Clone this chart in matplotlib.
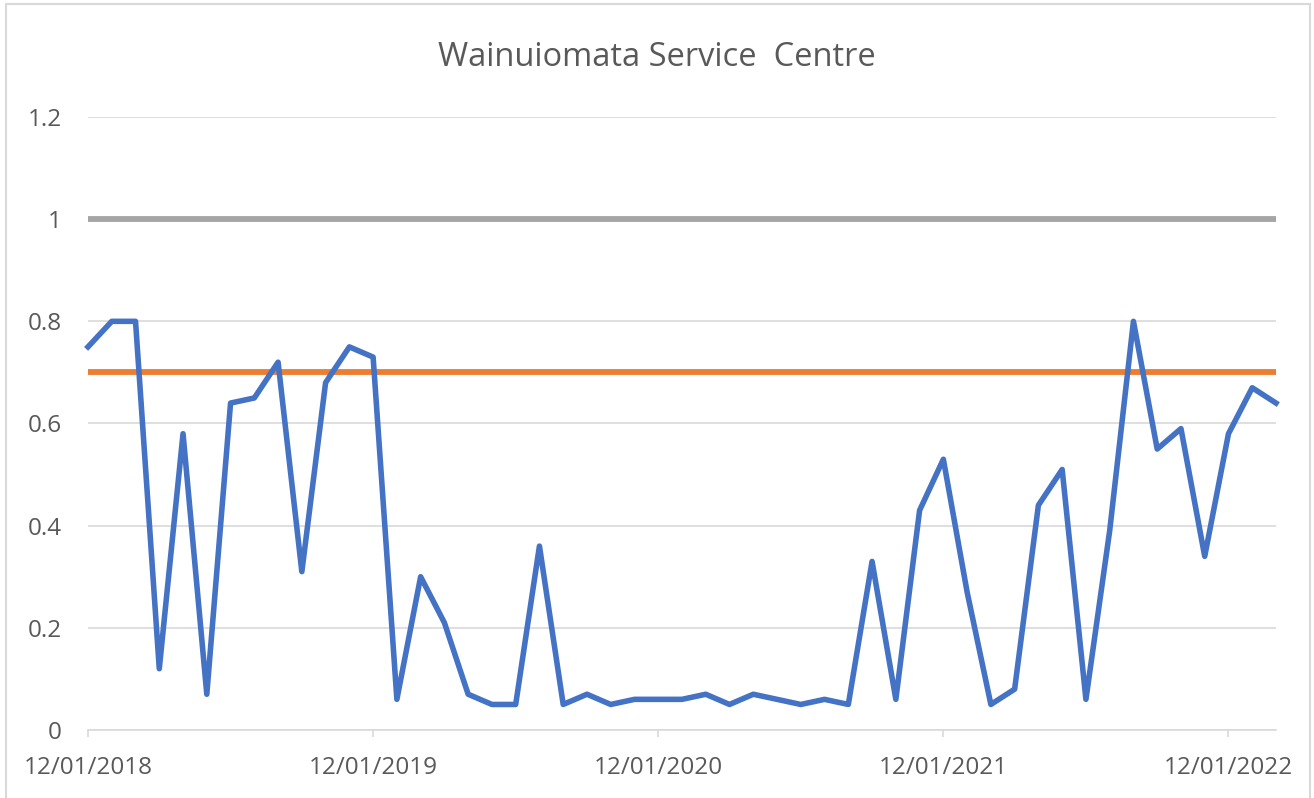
import numpy as np
import matplotlib
matplotlib.use("Agg")
import matplotlib.pyplot as plt
from matplotlib.patches import Rectangle

plt.rcParams['font.family'] = ['Open Sans', 'DejaVu Sans']

# monthly values
values = [0.75, 0.80, 0.80, 0.12, 0.58, 0.07, 0.64, 0.65, 0.72, 0.31,
          0.68, 0.75, 0.73, 0.06, 0.30, 0.21, 0.07, 0.05, 0.05, 0.36,
          0.05, 0.07, 0.05, 0.06, 0.06, 0.06, 0.07, 0.05, 0.07, 0.06,
          0.05, 0.06, 0.05, 0.33, 0.06, 0.43, 0.53, 0.27, 0.05, 0.08,
          0.44, 0.51, 0.06, 0.39, 0.80, 0.55, 0.59, 0.34, 0.58, 0.67,
          0.64]
target = 0.7
maximum = 1.0
tick_labels = ['12/01/2018', '12/01/2019', '12/01/2020', '12/01/2021', '12/01/2022']

months = np.arange(len(values))
text_col = '#595959'

fig = plt.figure(figsize=(13.14, 7.98), dpi=100)
ax = fig.add_axes([88 / 1314, 68 / 798, 1188 / 1314, 613 / 798])

ax.plot(months, [maximum] * len(values), color='#A5A5A5', lw=4.2, solid_capstyle='butt', zorder=3)
ax.plot(months, [target] * len(values), color='#ED7D31', lw=4.2, solid_capstyle='butt', zorder=3)
ax.plot(months, values, color='#4472C4', lw=4.0, solid_joinstyle='round', zorder=4)

ax.set_xlim(0, len(values) - 1)
ax.set_ylim(0, 1.2)
ax.set_yticks(np.arange(0, 1.21, 0.2))
ax.set_yticklabels(['0', '0.2', '0.4', '0.6', '0.8', '1', '1.2'])
ax.set_xticks(np.arange(0, len(values), 12))
ax.set_xticklabels(tick_labels)

ax.grid(axis='y', color='#D9D9D9', lw=1.2, zorder=0)
for s in ['left', 'right', 'top']:
    ax.spines[s].set_visible(False)
ax.spines['bottom'].set_color('#D9D9D9')
ax.spines['bottom'].set_linewidth(1.2)
ax.tick_params(axis='y', length=0, pad=19, labelsize=17.5, labelcolor=text_col)
ax.tick_params(axis='x', length=5, width=1.2, color='#D9D9D9', pad=14,
               labelsize=17.5, labelcolor=text_col)
for ln in ax.lines:
    ln.set_clip_on(False)

fig.text(0.5, 1 - 57 / 798, 'Wainuiomata Service  Centre', ha='center', va='center',
         fontsize=23.5, color=text_col)

fig.patches.append(Rectangle((6 / 1314, -0.01), 1304 / 1314, 1 - 4 / 798 + 0.01,
                             transform=fig.transFigure, fill=False,
                             edgecolor='#D9D9D9', lw=1.5))

fig.savefig('out.png', dpi=100)
